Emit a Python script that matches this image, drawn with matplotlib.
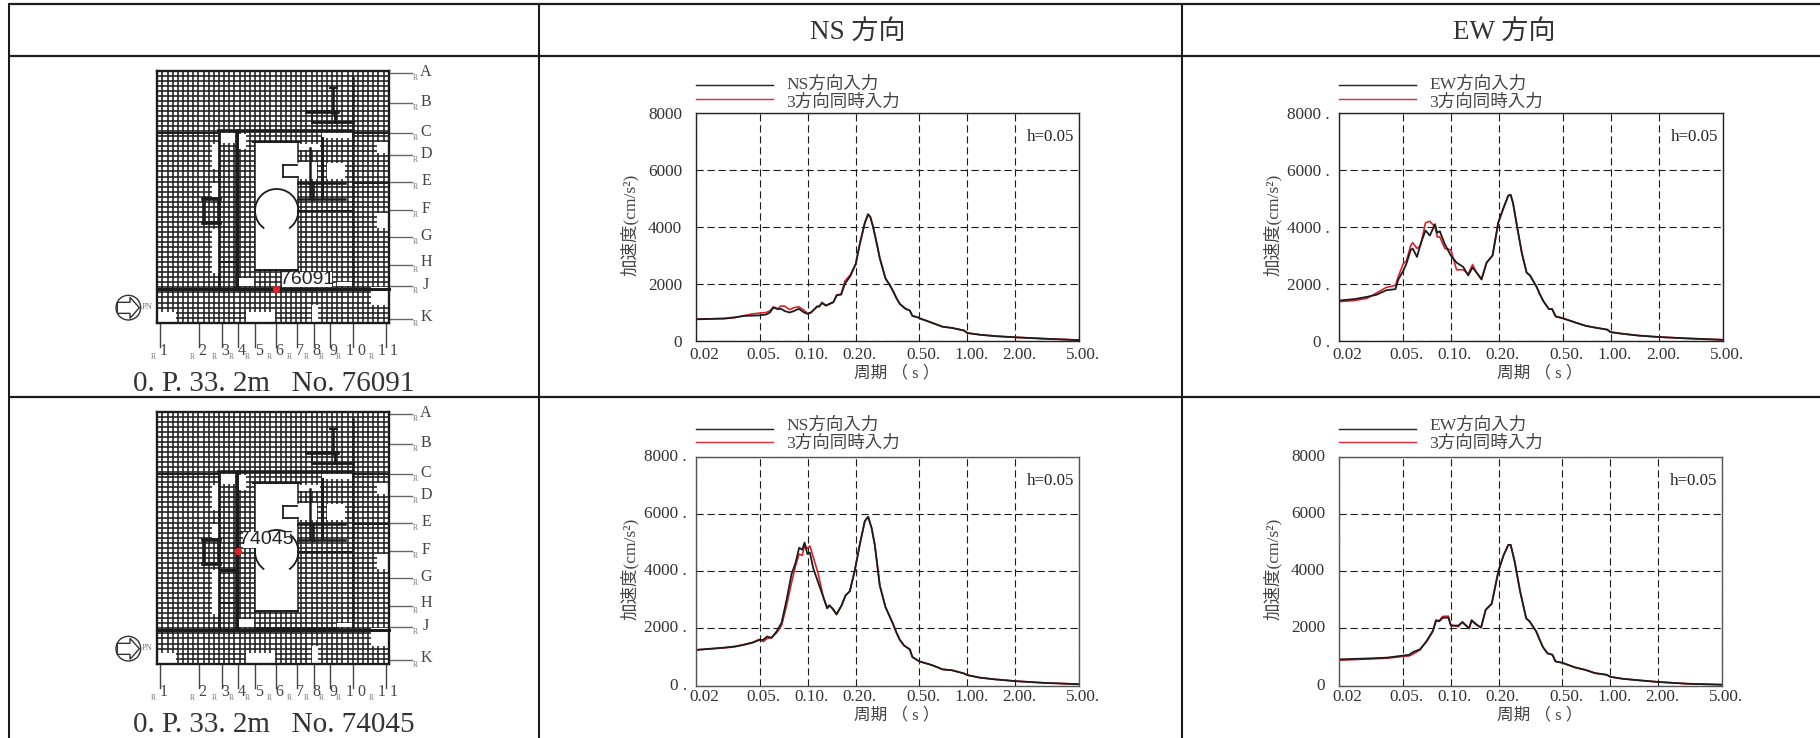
import matplotlib
matplotlib.use("Agg")
import matplotlib.pyplot as plt
from matplotlib.ticker import NullLocator
from matplotlib.collections import LineCollection
from matplotlib.patches import Rectangle, Polygon, Circle, Arc
from matplotlib.transforms import ScaledTranslation
import numpy as np

W, H = 1820, 738
SERIF = ['Liberation Serif', 'Noto Sans CJK JP']
plt.rcParams['font.family'] = SERIF

# ---------- data ----------
ticks_x = [0.02, 0.05, 0.10, 0.20, 0.50, 1.00, 2.00, 5.00]
ticks_x_labels = ['0.02', '0.05.', '0.10.', '0.20.', '0.50.', '1.00.', '2.00.', '5.00.']
ticks_y = [0, 2000, 4000, 6000, 8000]

tail_t = [0.6, 0.7, 0.8, 0.95, 1.0, 1.2, 1.5, 2.0, 3.0, 5.0]

ns1_t = [0.02, 0.03, 0.035, 0.04, 0.045, 0.05, 0.055, 0.058, 0.061, 0.065, 0.068, 0.072, 0.077, 0.082, 0.088, 0.095, 0.10, 0.105, 0.115,
         0.118, 0.123, 0.13, 0.145, 0.152, 0.162, 0.171, 0.185, 0.20, 0.212, 0.228, 0.239, 0.247, 0.257, 0.27, 0.283, 0.307, 0.325, 0.343, 0.36, 0.378, 0.41, 0.436, 0.453, 0.49, 0.50] + tail_t
ns1_black = [760, 790, 830, 880, 890, 900, 930, 1000, 1170, 1120, 1130, 1050, 1000, 1050, 1130, 1000, 950, 1000, 1220,
             1210, 1330, 1240, 1370, 1600, 1630, 2000, 2280, 2700, 3400, 4150, 4450, 4350, 4000, 3450, 2900, 2200, 1980, 1750, 1500, 1300, 1130, 1070, 880, 830, 800,
             640, 500, 460, 370, 280, 220, 170, 130, 80, 30]
ns1_red = [770, 785, 820, 890, 950, 980, 1000, 1060, 1200, 1130, 1230, 1220, 1100, 1170, 1200, 1080, 960, 1000, 1210,
           1200, 1360, 1250, 1350, 1620, 1640, 2100, 2320, 2700, 3400, 4130, 4430, 4350, 4000, 3470, 2920, 2200, 1980, 1750, 1500, 1300, 1130, 1070, 880, 830, 800,
           640, 500, 460, 370, 280, 220, 170, 130, 85, 35]

ew1_t = [0.02, 0.025, 0.03, 0.0342, 0.0395, 0.0451, 0.0469, 0.0503, 0.0527, 0.0562, 0.0578, 0.0615, 0.0647, 0.0695, 0.074, 0.0796, 0.0823, 0.0854, 0.0917,
         0.10, 0.1087, 0.1196, 0.1285, 0.1368, 0.145, 0.1556, 0.1675, 0.1825, 0.198, 0.213, 0.2287, 0.2367, 0.245, 0.2596, 0.2783, 0.298, 0.313, 0.344, 0.36, 0.379, 0.411, 0.43, 0.453, 0.501] + tail_t
ew1_black = [1420, 1470, 1550, 1620, 1780, 1820, 2150, 2450, 2700, 3200, 3240, 2950, 3400, 3880, 3700, 4100, 3800, 3850, 3400,
             3000, 2750, 2600, 2300, 2580, 2400, 2170, 2750, 3000, 4150, 4650, 5100, 5130, 4840, 4020, 3080, 2400, 2300, 1900, 1650, 1400, 1120, 1120, 860, 800,
             650, 530, 470, 400, 310, 250, 190, 140, 90, 40]
ew1_red = [1380, 1420, 1500, 1680, 1880, 1950, 2250, 2700, 2800, 3350, 3450, 3250, 3350, 4150, 4200, 4000, 3650, 3650, 3250,
           3200, 2500, 2500, 2350, 2680, 2400, 2150, 2750, 3000, 4150, 4650, 5100, 5130, 4840, 4020, 3080, 2400, 2300, 1900, 1650, 1400, 1120, 1120, 860, 800,
           650, 530, 470, 400, 310, 250, 190, 140, 95, 45]

ns2_t = [0.02, 0.03, 0.035, 0.04, 0.045, 0.05, 0.0527, 0.0558, 0.0594, 0.064, 0.0687, 0.0738, 0.0793, 0.0841, 0.0885, 0.0925, 0.0957, 0.0996, 0.1033,
         0.1084, 0.1165, 0.1253, 0.1325, 0.1365, 0.1432, 0.1517, 0.163, 0.1726, 0.1837, 0.1977, 0.2124, 0.228, 0.2394, 0.2517, 0.2636, 0.283, 0.307, 0.343, 0.36, 0.378, 0.402, 0.436, 0.453, 0.50] + tail_t
ns2_black = [1250, 1330, 1370, 1430, 1500, 1600, 1600, 1720, 1670, 1900, 2200, 3000, 3900, 4300, 4820, 4750, 5000, 4600, 4650,
             4100, 3600, 3100, 2700, 2800, 2700, 2500, 2800, 3150, 3300, 4050, 4950, 5750, 5900, 5500, 4900, 3500, 2750, 2150, 1850, 1600, 1400, 1270, 1000, 850,
             720, 570, 540, 430, 370, 280, 220, 160, 100, 50]
ns2_red = [1250, 1320, 1360, 1440, 1510, 1620, 1540, 1650, 1680, 1850, 2100, 2800, 3600, 4200, 4600, 4550, 4900, 4800, 4880,
           4500, 3900, 3100, 2720, 2820, 2680, 2480, 2800, 3150, 3300, 4050, 4950, 5750, 5900, 5500, 4900, 3500, 2750, 2150, 1850, 1600, 1400, 1270, 1000, 850,
           720, 570, 540, 430, 370, 280, 220, 160, 100, 55]

ew2_t = [0.02, 0.03, 0.04, 0.05, 0.055, 0.0584, 0.0643, 0.0708, 0.0773, 0.081, 0.0849, 0.0891, 0.0968, 0.1003, 0.1117, 0.1184, 0.1304, 0.1353, 0.1456,
         0.155, 0.1657, 0.1808, 0.199, 0.2143, 0.2297, 0.2377, 0.2523, 0.272, 0.2972, 0.312, 0.343, 0.36, 0.378, 0.404, 0.434, 0.453, 0.50] + tail_t
ew2_black = [920, 950, 980, 1050, 1080, 1180, 1270, 1550, 1900, 2270, 2250, 2370, 2380, 2100, 2100, 2220, 2000, 2270, 2120,
             2030, 2650, 2870, 4000, 4550, 4920, 4920, 4300, 3300, 2350, 2250, 1900, 1620, 1350, 1130, 1080, 850, 800,
             640, 550, 440, 380, 310, 240, 190, 130, 70, 35]
ew2_red = [890, 930, 960, 1020, 1040, 1110, 1250, 1570, 1920, 2300, 2270, 2420, 2430, 2120, 2060, 2230, 2010, 2300, 2140,
           2030, 2650, 2850, 4000, 4550, 4920, 4920, 4320, 3320, 2350, 2250, 1900, 1620, 1350, 1130, 1080, 850, 800,
           640, 550, 440, 380, 310, 240, 190, 130, 70, 35]

headers = ['NS 方向', 'EW 方向']
second_label = '3方向同時入力'
h_text = 'h=0.05'
captions = ['0. P. 33. 2m   No. 76091', '0. P. 33. 2m   No. 74045']
axis_letters = ['A', 'B', 'C', 'D', 'E', 'F', 'G', 'H', 'J', 'K']
axis_numbers = ['1', '2', '3', '4', '5', '6', '7', '8', '9', '1 0', '1 1']

fig = plt.figure(figsize=(W / 100, H / 100), dpi=100, facecolor='white')
bg = fig.add_axes([0, 0, 1, 1], zorder=0)
bg.set_xlim(0, W)
bg.set_ylim(H, 0)
bg.axis('off')

# ---------- table frame ----------
TC = '#1c1c1c'
for y in (4, 56, 397):
    bg.plot([9, W], [y, y], color=TC, lw=1.6, solid_capstyle='butt')
for x in (9, 539, 1182):
    bg.plot([x, x], [3, H], color=TC, lw=1.5, solid_capstyle='butt')
bg.text(858, 32.5, headers[0], ha='center', va='center', fontsize=19.5, color='#333333')
bg.text(1504, 32.5, headers[1], ha='center', va='center', fontsize=19.5, color='#333333')


# ---------- floor plan ----------
def plan(dy, label, lab_xy, lab_box, red_xy, caption, extra):
    px = lambda X: 100 + X / 3
    py = lambda Y: 50 + Y / 3 + dy
    x0, x1, y0, y1 = 172, 866, 62, 818
    segs = [[(px(x), py(y0)), (px(x), py(y1))] for x in np.linspace(x0, x1, 46)]
    segs += [[(px(x0), py(y)), (px(x1), py(y))] for y in np.linspace(y0, y1, 51)]
    bg.add_collection(LineCollection(segs, colors='#1e1e1e', linewidths=1.15, zorder=2))

    whites = [(465, 278, 595, 658), (360, 250, 405, 280), (418, 252, 438, 298), (335, 282, 358, 358),
              (335, 400, 358, 440), (335, 538, 358, 670), (665, 250, 755, 265), (595, 283, 660, 300),
              (595, 335, 650, 388), (680, 340, 735, 388), (832, 275, 865, 310), (832, 490, 865, 535),
              (418, 685, 462, 708), (710, 695, 755, 708), (812, 712, 865, 765), (173, 787, 228, 817),
              (438, 787, 525, 817), (635, 765, 655, 817), (550, 345, 595, 382)]
    for a, b, c, d in whites:
        bg.add_patch(Rectangle((px(a), py(b)), (c - a) / 3, (d - b) / 3, fc='white', ec='none', zorder=3))
    bg.add_patch(Circle((px(530), py(482)), 65 / 3, fc='white', ec='none', zorder=3))
    # circle wall with a gap at the bottom (the overlay's y axis is inverted)
    bg.add_patch(Arc((px(530), py(482)), 130 / 3, 130 / 3, theta1=125, theta2=415, color='#1c1c1c', lw=1.3, zorder=5))

    thick = [((172, 62), (866, 62), 1.7), ((866, 62), (866, 818), 1.7), ((866, 818), (172, 818), 1.7), ((172, 818), (172, 62), 1.7),
             ((358, 242), (760, 242), 2.6), ((358, 242), (358, 715), 2.0), ((412, 250), (412, 715), 2.6), ((760, 215), (760, 715), 1.8),
             ((172, 716), (866, 716), 2.2), ((310, 447), (360, 447), 2.6), ((310, 518), (360, 518), 2.6), ((312, 447), (312, 518), 2.6),
             ((358, 447), (358, 518), 2.6), ((620, 187), (715, 187), 2.6), ((635, 217), (760, 217), 2.0), ((700, 115), (700, 190), 1.8),
             ((758, 85), (758, 220), 1.8), ((630, 295), (630, 445), 1.8), ((665, 265), (665, 445), 2.2), ((595, 400), (735, 400), 1.8),
             ((595, 447), (735, 447), 1.8), ((640, 400), (640, 447), 1.8), ((460, 276), (600, 276), 1.4), ((465, 660), (595, 660), 1.4),
             ((465, 276), (465, 660), 1.1), ((595, 276), (595, 335), 1.1), ((595, 388), (595, 660), 1.1),
             ((550, 345), (550, 382), 1.3), ((550, 382), (595, 382), 1.3), ((550, 345), (590, 345), 1.3), ((690, 115), (710, 115), 1.4),
             ((172, 250), (358, 250), 1.4), ((760, 250), (866, 250), 1.4), ((760, 400), (866, 400), 1.4), ((595, 482), (760, 482), 1.4),
             ((415, 240), (415, 715), 1.4), ((360, 635), (412, 635), 1.4), ((635, 187), (635, 217), 1.4), ((705, 190), (705, 217), 2.0)] + extra
    for (a, b), (c, d), lw in thick:
        bg.plot([px(a), px(c)], [py(b), py(d)], color='#1c1c1c', lw=lw, solid_capstyle='projecting', zorder=4)

    # grid-axis leader lines and labels
    ly = [70, 160, 250, 315, 397, 480, 562, 645, 708, 808]
    tx = [65, 155, 245, 312, 392, 477, 557, 637, 705, 802]
    for s, a, b in zip(axis_letters, ly, tx):
        bg.plot([px(866), px(935)], [py(a), py(a)], color='#666666', lw=1.0, zorder=2)
        bg.text(px(978), py(b), s, ha='center', va='center', fontsize=11.5, color='#444444')
        bg.text(px(945), py(a + 15), 'R', ha='center', va='center', fontsize=5.5, color='#777777')
    vx = [181, 298, 365, 415, 466, 527, 590, 642, 691, 758, 857]
    rx = [160, 277, 343, 393, 443, 507, 568, 618, 665, 716, 815]
    nx = [190, 308, 375, 425, 476, 538, 600, 650, 702, 767, 865]
    for s, a, r, n in zip(axis_numbers, vx, rx, nx):
        bg.plot([px(a), px(a)], [py(818), py(890)], color='#444444', lw=1.0, zorder=2)
        bg.text(px(n), py(903), s, ha='center', va='center', fontsize=11.5, color='#444444')
        bg.text(px(r), py(921), 'R', ha='center', va='center', fontsize=5.5, color='#777777')

    # plant north symbol
    bg.add_patch(Circle((px(85), py(773)), 37 / 3, fc='white', ec='#333333', lw=1.0, zorder=3))
    arrow = [(52, 757), (90, 757), (90, 742), (118, 773), (90, 805), (90, 790), (52, 790)]
    bg.add_patch(Polygon([(px(a), py(b)) for a, b in arrow], closed=True, fc='white', ec='#333333', lw=1.0, zorder=4))
    bg.text(px(142), py(770), 'PN', ha='center', va='center', fontsize=6, color='#777777')

    # node label and marker
    a, b, c, d = lab_box
    bg.add_patch(Rectangle((px(a), py(b)), (c - a) / 3, (d - b) / 3, fc='white', ec='none', zorder=6))
    bg.text(px(lab_xy[0]), py(lab_xy[1]), label, ha='center', va='center', fontsize=14,
            family=['Liberation Sans'], color='#222222', zorder=7)
    bg.plot(px(red_xy[0]), py(red_xy[1]), 'o', color='#ee1c25', ms=5.2, mec='none', zorder=8)
    bg.text(px(520), py(1003), caption, ha='center', va='center', fontsize=21, color='#333333')


plan(0, '76091', (620, 690), (545, 665, 695, 710), (528, 718), captions[0], [])
plan(341, '74045', (498, 447), (428, 423, 570, 472), (415, 481), captions[1],
     [((465, 714), (710, 714), 2.6), ((360, 538), (412, 538), 2.2)])


# ---------- response spectra ----------
def panel(box, t, black, red, name, legend_y, tick_shift, tick_suffix, spine_color, pad_y, pad_x, xlabel_y):
    left, right, top, bottom = box
    ax = fig.add_axes([left / W, 1 - bottom / H, (right - left) / W, (bottom - top) / H], zorder=2)
    ax.patch.set_alpha(0)
    ax.set_xscale('log')
    ax.set_xlim(0.02, 5)
    ax.set_ylim(0, 8000)
    ax.xaxis.set_minor_locator(NullLocator())
    ax.set_xticks(ticks_x, ticks_x_labels)
    ax.set_yticks(ticks_y, [f'{v}{tick_suffix}' for v in ticks_y])
    ax.tick_params(length=0, labelsize=12.4, labelcolor='#333333')
    ax.tick_params(axis='x', pad=pad_x)
    ax.tick_params(axis='y', pad=pad_y)
    for i, lab in enumerate(ax.get_xticklabels()):
        dx = 8 if i == 0 else 4
        lab.set_transform(lab.get_transform() + ScaledTranslation(dx / 100, 0, fig.dpi_scale_trans))
    for lab in ax.get_yticklabels():
        lab.set_transform(lab.get_transform() + ScaledTranslation(0, tick_shift / 100, fig.dpi_scale_trans))
    ax.grid(True, which='major', color='#1a1a1a', lw=0.8, linestyle=(0, (6.5, 3.4)))
    ax.set_axisbelow(True)
    for s in ax.spines.values():
        s.set_color(spine_color)
        s.set_linewidth(1.0)
    ax.plot(t, red, color='#d8222b', lw=1.2, label=second_label, solid_joinstyle='round')
    ax.plot(t, black, color='#1c1c1c', lw=1.3, label=name, solid_joinstyle='round')

    w, h = right - left, bottom - top
    ly_b, ly_r, ty_b, ty_r = legend_y
    ax.plot([0, 77 / w], [1 + ly_b / h] * 2, transform=ax.transAxes, clip_on=False, color='#262626', lw=1.05)
    ax.plot([0, 77 / w], [1 + ly_r / h] * 2, transform=ax.transAxes, clip_on=False, color='#d8303a', lw=1.05)
    ax.text(90 / w, 1 + ty_b / h, name, transform=ax.transAxes, va='center', ha='left', fontsize=12.6, color='#444444')
    ax.text(90 / w, 1 + ty_r / h, second_label, transform=ax.transAxes, va='center', ha='left', fontsize=12.6, color='#444444')
    ax.text(1 - 4.7 / w, 1 - 24 / h, h_text, transform=ax.transAxes, va='center', ha='right', fontsize=12.2, color='#222222')
    ax.text(201 / w, -xlabel_y / h, '周期 （ s ）', transform=ax.transAxes, va='center', ha='center', fontsize=12, color='#444444')
    ax.text(-66 / w, 1 - 112 / h, '加速度(cm/s²)', transform=ax.transAxes, va='center', ha='center',
            rotation=90, fontsize=12.6, color='#444444')
    return ax


leg1 = (27.5, 14, 28, 10.3)
leg2 = (27.5, 14.7, 30.7, 13)
panel((696, 1079, 113, 341), ns1_t, ns1_black, ns1_red, 'NS方向入力', leg1, 0, '', '#222222', 10, 4.2, 32)
panel((1339, 1722.5, 113, 341), ew1_t, ew1_black, ew1_red, 'EW方向入力', leg1, 0, ' .', '#222222', 6.5, 4.2, 32)
panel((696, 1079, 456.7, 685.7), ns2_t, ns2_black, ns2_red, 'NS方向入力', leg2, 2, ' .', '#555555', 6.5, 2.6, 30)
panel((1339, 1722, 456.7, 685.7), ew2_t, ew2_black, ew2_red, 'EW方向入力', leg2, 2, '', '#555555', 10, 2.6, 30)

fig.savefig('out.png', dpi=100, facecolor='white')
